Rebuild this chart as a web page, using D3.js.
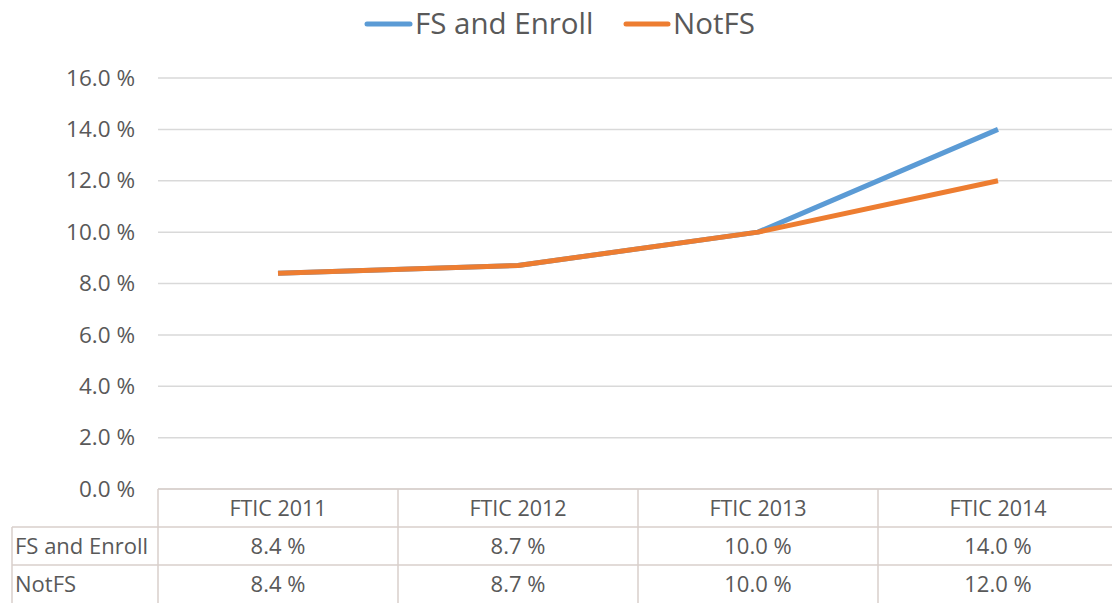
<!DOCTYPE html>
<html>
<head>
<meta charset="utf-8">
<script src="https://cdn.jsdelivr.net/npm/d3@7"></script>
<style>
  body { margin: 0; background: #fff; }
  text { font-family: "Open Sans", "Noto Sans", sans-serif; fill: #595959; }
</style>
</head>
<body>
<script>
var categories = ["FTIC 2011", "FTIC 2012", "FTIC 2013", "FTIC 2014"];
var seriesNames = ["FS and Enroll", "NotFS"];
var fsEnroll = [8.4, 8.7, 10.0, 14.0];
var notFS = [8.4, 8.7, 10.0, 12.0];
var yTicks = [0, 2, 4, 6, 8, 10, 12, 14, 16];
var colors = ["#5B9BD5", "#ED7D31"];

var width = 1112, height = 603;
var svg = d3.select("body").append("svg")
    .attr("width", width)
    .attr("height", height);

// plot area
var x = d3.scaleBand().domain(categories).range([158, 1118]);
var y = d3.scaleLinear().domain([0, 16]).range([489, 78]);
var fmt = function(v) { return v.toFixed(1) + " %"; };

// gridlines
svg.append("g")
  .selectAll("line")
  .data(yTicks)
  .enter().append("line")
    .attr("x1", 158).attr("x2", width)
    .attr("y1", function(d) { return y(d); })
    .attr("y2", function(d) { return y(d); })
    .attr("stroke", "#d9d9d9")
    .attr("stroke-width", 1.5);

// y axis labels
var yAxis = d3.axisLeft(y).tickValues(yTicks).tickFormat(fmt).tickSize(0).tickPadding(23);
svg.append("g")
    .attr("transform", "translate(158,0)")
    .call(yAxis)
    .call(function(g) { g.select(".domain").remove(); })
    .selectAll("text")
      .style("font-size", "22.5px")
      .style("font-family", "'Open Sans', sans-serif")
      .attr("fill", "#595959")
      .attr("dy", "0.32em");

// lines
var line = d3.line()
    .x(function(d, i) { return x(categories[i]) + x.bandwidth() / 2; })
    .y(function(d) { return y(d); });

[fsEnroll, notFS].forEach(function(s, i) {
  svg.append("path")
    .datum(s)
    .attr("d", line)
    .attr("fill", "none")
    .attr("stroke", colors[i])
    .attr("stroke-width", 5)
    .attr("stroke-linejoin", "round");
});

// legend
var legendItems = [
  {name: seriesNames[0], x: 367, w: 43},
  {name: seriesNames[1], x: 626, w: 42}
];
var lg = svg.append("g");
legendItems.forEach(function(d, i) {
  lg.append("line")
    .attr("x1", d.x).attr("x2", d.x + d.w)
    .attr("y1", 24).attr("y2", 24)
    .attr("stroke", colors[i])
    .attr("stroke-width", 5)
    .attr("stroke-linecap", "round");
  lg.append("text")
    .attr("x", d.x + d.w + 5)
    .attr("y", 24)
    .attr("dy", "0.35em")
    .style("font-size", "29.5px")
    .text(d.name);
});

// data table
var tableTop = 489, rowH = 38, labelLeft = 12;
var tbl = svg.append("g");
var gridCol = "#d8cfcb";
var rows = [fsEnroll, notFS];

// horizontal lines
tbl.append("line").attr("x1", 158).attr("x2", width)
  .attr("y1", tableTop).attr("y2", tableTop)
  .attr("stroke", gridCol).attr("stroke-width", 1.5);
[1, 2].forEach(function(r) {
  tbl.append("line").attr("x1", labelLeft).attr("x2", width)
    .attr("y1", tableTop + r * rowH).attr("y2", tableTop + r * rowH)
    .attr("stroke", gridCol).attr("stroke-width", 1.5);
});
// vertical lines
tbl.append("line").attr("x1", labelLeft).attr("x2", labelLeft)
  .attr("y1", tableTop + rowH).attr("y2", height)
  .attr("stroke", gridCol).attr("stroke-width", 1.5);
categories.forEach(function(c) {
  tbl.append("line").attr("x1", x(c)).attr("x2", x(c))
    .attr("y1", tableTop).attr("y2", height)
    .attr("stroke", gridCol).attr("stroke-width", 1.5);
});

// header
tbl.selectAll("text.cat")
  .data(categories)
  .enter().append("text")
    .attr("class", "cat")
    .attr("x", function(d) { return x(d) + x.bandwidth() / 2; })
    .attr("y", tableTop + rowH / 2)
    .attr("dy", "0.35em")
    .attr("text-anchor", "middle")
    .style("font-size", "21.5px")
    .text(function(d) { return d; });

rows.forEach(function(s, r) {
  var cy = tableTop + (r + 1) * rowH + rowH / 2;
  tbl.append("text")
    .attr("x", labelLeft + 3)
    .attr("y", cy)
    .attr("dy", "0.35em")
    .style("font-size", "22px")
    .text(seriesNames[r]);
  tbl.selectAll("text.v" + r)
    .data(s)
    .enter().append("text")
      .attr("class", "v" + r)
      .attr("x", function(d, i) { return x(categories[i]) + x.bandwidth() / 2; })
      .attr("y", cy)
      .attr("dy", "0.35em")
      .attr("text-anchor", "middle")
      .style("font-size", "22px")
      .text(fmt);
});
</script>
</body>
</html>
